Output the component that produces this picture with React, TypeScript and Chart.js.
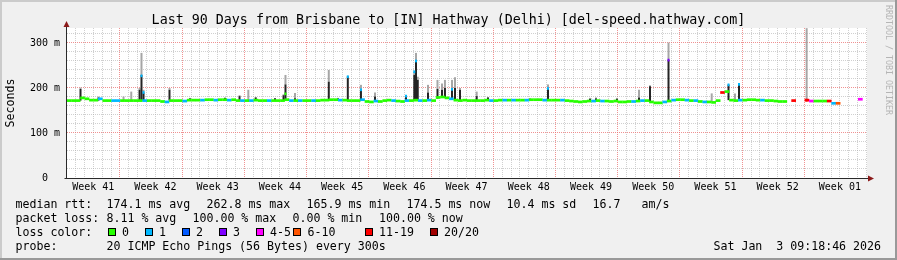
import React, { useEffect, useRef } from 'react';
import { Chart, registerables } from 'chart.js';

Chart.register(...registerables);

const FONT = '"DejaVu Sans Mono", monospace';

// ---- axis definitions ----
const RANGE_DAYS = 90;
const STEP_DAYS = 0.5;
const FIRST_DAY_LINE = 0.45;
const FIRST_WEEK_LINE = 6.45;
const Y_MAX = 333.33;
const weekLabels = ['Week 41', 'Week 42', 'Week 43', 'Week 44', 'Week 45', 'Week 46', 'Week 47', 'Week 48', 'Week 49', 'Week 50', 'Week 51', 'Week 52', 'Week 01'];
const yTickValues = [0, 100, 200, 300];
const yTickLabels = ['0  ', '100 m', '200 m', '300 m'];

// ---- median rtt (ms), one value per half day; null = 100% loss ----
const medianMs: (number | null)[] = [
  172, 172, 172, 178, 176, 173, 173, 176, 172, 172,
  172, 172, 172, 172, 172, 172, 172, 172, 172, 172,
  172, 170, 169, 172, 172, 172, 171, 173, 173, 173,
  173, 174, 174, 173, 174, 174, 173, 174, 172, 172,
  172, 172, 173, 172, 172, 172, 172, 172, 172, 174,
  172, 172, 172, 172, 172, 172, 172, 173, 173, 174,
  174, 173, 173, 172, 172, 172, 174, 170, 169, 171,
  170, 172, 173, 172, 171, 170, 172, 172, 173, 172,
  172, 173, 172, 179, 180, 178, 176, 173, 172, 173,
  172, 172, 172, 172, 173, 172, 172, 173, 173, 173,
  173, 173, 173, 173, 174, 174, 174, 173, 173, 173,
  173, 173, 172, 171, 170, 169, 170, 171, 171, 172,
  171, 171, 170, 171, 169, 169, 170, 170, 171, 172,
  172, 169, 167, 167, 169, 171, 173, 174, 174, 173,
  172, 172, 170, 169, 169, 168, 172, 190, 192, 173,
  172, 173, 173, 174, 174, 173, 173, 172, 172, 171,
  170, 170, null, 172, null, null, 173, 171, 171, 171,
  171, 171, 166, 166, null, null, null, null, 175, null,
];
// loss class per half day (index into lossLabels)
const medianLoss: number[] = [
  0, 0, 0, 0, 0, 0, 0, 1, 0, 0,
  1, 1, 0, 0, 0, 0, 0, 1, 0, 0,
  0, 0, 1, 0, 0, 0, 1, 0, 0, 0,
  1, 0, 0, 1, 0, 0, 1, 0, 0, 1,
  0, 1, 0, 0, 0, 1, 0, 0, 0, 0,
  1, 0, 1, 0, 0, 1, 0, 0, 0, 0,
  0, 1, 0, 0, 0, 0, 1, 0, 0, 1,
  0, 0, 0, 1, 0, 0, 1, 0, 0, 1,
  0, 1, 0, 0, 0, 0, 1, 0, 0, 0,
  0, 0, 0, 0, 0, 1, 0, 0, 1, 0,
  1, 0, 0, 1, 0, 0, 0, 1, 0, 0,
  0, 1, 0, 0, 0, 0, 0, 0, 1, 0,
  1, 0, 0, 0, 0, 0, 0, 1, 0, 1,
  0, 0, 0, 0, 1, 0, 1, 0, 0, 1,
  0, 1, 0, 1, 0, 0, 0, 6, 0, 0,
  0, 1, 0, 0, 0, 0, 1, 0, 0, 0,
  0, 0, 0, 6, 0, 0, 6, 4, 0, 0,
  0, 6, 1, 5, 0, 0, 0, 0, 4, 0,
];

const lossLabels = ['0', '1', '2', '3', '4-5', '6-10', '11-19', '20/20'];
const lossColors = ['#26ff00', '#00b8ff', '#0059ff', '#7e00ff', '#ff00ff', '#ff5500', '#ff0000', '#a10000'];

// ---- smoke spikes (day, low/top of dense smoke/max ping in ms) ----
const spikeDay = [1.52, 3.54, 6.36, 7.23, 8.16, 8.38, 8.61, 11.53, 13.84, 17.77, 19.41, 20.40, 21.23, 23.40, 24.36, 24.58, 25.65, 29.45, 30.49, 31.59, 33.07, 34.65, 38.14, 39.07, 39.26, 39.46, 40.61, 41.68, 42.19, 42.52, 43.31, 43.65, 44.21, 46.09, 47.36, 52.09, 54.11, 58.84, 59.51, 61.87, 64.35, 65.59, 67.67, 72.53, 74.42, 75.15, 75.60, 83.21];
const spikeLow = [172, 172, 172, 172, 172, 172, 172, 172, 172, 172, 172, 172, 172, 172, 172, 172, 172, 173, 172, 172, 172, 170, 171, 172, 172, 172, 172, 176, 178, 178, 176, 173, 172, 172, 172, 173, 173, 171, 171, 169, 171, 169, 171, 168, 173, 172, 173, 172];
const spikeTop = [198, 179, 172, 172, 196, 229, 190, 196, 177, 178, 182, 172, 179, 177, 184, 208, 177, 214, 177, 225, 196, 181, 182, 229, 260, 218, 190, 198, 196, 200, 197, 200, 196, 182, 179, 176, 200, 176, 177, 176, 179, 204, 262, 168, 207, 172, 208, 172];
const spikeMax = [201, 181, 181, 192, 200, 278, 196, 200, 178, 179, 184, 196, 180, 178, 186, 229, 189, 240, 178, 227, 207, 190, 184, 236, 278, 225, 207, 218, 210, 218, 218, 224, 200, 192, 180, 177, 208, 178, 179, 178, 196, 206, 301, 188, 209, 188, 210, 333];

// ---- median marks sitting on top of spikes ----
const markDay = [8.38, 8.61, 24.58, 31.59, 33.07, 38.14, 39.07, 39.26, 43.31, 54.11, 67.67, 74.42, 75.60, 83.21];
const markMs = [227, 190, 187, 225, 196, 182, 236, 260, 197, 199, 262, 207, 208, 173];
const markLoss = [1, 1, 0, 1, 1, 1, 1, 1, 1, 1, 3, 1, 1, 6];

// ---- texts ----
const titleText = 'Last 90 Days from Brisbane to [IN] Hathway (Delhi) [del-speed.hathway.com]';
const rttLabel = 'median rtt:';
const rttStats = ['174.1 ms avg', '262.8 ms max', '165.9 ms min', '174.5 ms now', '10.4 ms sd', '16.7', 'am/s'];
const lossLabel = 'packet loss:';
const lossStats = ['8.11 % avg', '100.00 % max', '0.00 % min', '100.00 % now'];
const colorLabel = 'loss color:';
const probeLabel = 'probe:';
const probeText = '20 ICMP Echo Pings (56 Bytes) every 300s';
const dateText = 'Sat Jan  3 09:18:46 2026';
const watermark = 'RRDTOOL / TOBI OETIKER';

// ---- styling ----
const LINE_HALF = 3;
const MINOR = 'rgba(170,170,170,0.55)';
const MAJOR = 'rgba(235,110,110,0.75)';

const decor = {
  id: 'decor',
  beforeDraw(chart: any) {
    const { ctx, width, height, chartArea: a } = chart;
    ctx.save();
    ctx.fillStyle = '#f0f0f0';
    ctx.fillRect(0, 0, width, height);
    ctx.fillStyle = '#cbcbcb';
    ctx.fillRect(0, 0, width, 2);
    ctx.fillRect(0, 0, 2, height);
    ctx.fillStyle = '#999999';
    ctx.fillRect(0, height - 2, width, 2);
    ctx.fillRect(width - 2, 0, 2, height);
    ctx.fillStyle = '#ffffff';
    ctx.fillRect(a.left, a.top, a.right - a.left, a.bottom - a.top);
    ctx.restore();
  },
  afterDraw(chart: any) {
    const { ctx, width, chartArea: a } = chart;
    ctx.save();
    // axes
    const ax = a.left - 0.5;
    const ay = a.bottom + 0.5;
    ctx.strokeStyle = '#2a2a2a';
    ctx.lineWidth = 1;
    ctx.beginPath();
    ctx.moveTo(ax, ay);
    ctx.lineTo(ax, a.top - 2);
    ctx.moveTo(ax - 2, ay);
    ctx.lineTo(a.right + 2, ay);
    ctx.stroke();
    ctx.fillStyle = '#8b1a1a';
    ctx.beginPath();
    ctx.moveTo(ax - 3, a.top - 1);
    ctx.lineTo(ax + 3, a.top - 1);
    ctx.lineTo(ax, a.top - 7);
    ctx.closePath();
    ctx.fill();
    ctx.beginPath();
    ctx.moveTo(a.right + 1, ay - 3);
    ctx.lineTo(a.right + 1, ay + 3);
    ctx.lineTo(a.right + 7, ay);
    ctx.closePath();
    ctx.fill();

    // title
    ctx.fillStyle = '#000';
    ctx.textBaseline = 'alphabetic';
    ctx.textAlign = 'center';
    ctx.font = `13.33px ${FONT}`;
    ctx.fillText(titleText, width / 2, 24);

    // legend
    ctx.textAlign = 'left';
    ctx.font = `11.6px ${FONT}`;
    const rows = [208, 222, 236, 250];
    ctx.fillText(rttLabel, 15.5, rows[0]);
    const rttX = [106.5, 206.5, 306.5, 406.5, 506.5, 592.5, 641.5];
    rttStats.forEach((t, i) => ctx.fillText(t, rttX[i], rows[0]));
    ctx.fillText(lossLabel, 15.5, rows[1]);
    const lossX = [106.5, 192.5, 292.5, 379];
    lossStats.forEach((t, i) => ctx.fillText(t, lossX[i], rows[1]));
    ctx.fillText(colorLabel, 15.5, rows[2]);
    const boxX = [108, 145, 182, 219, 256, 293, 365, 430];
    const lblX = [122, 159, 196, 233, 270, 307.5, 379, 444];
    lossLabels.forEach((t, i) => {
      ctx.fillStyle = lossColors[i];
      ctx.fillRect(boxX[i], 228, 8, 8);
      ctx.strokeStyle = '#000';
      ctx.strokeRect(boxX[i] + 0.5, 228.5, 7, 7);
      ctx.fillStyle = '#000';
      ctx.fillText(t, lblX[i], rows[2]);
    });
    ctx.fillText(probeLabel, 15.5, rows[3]);
    ctx.fillText(probeText, 106.5, rows[3]);
    ctx.textAlign = 'right';
    ctx.fillText(dateText, 881, rows[3]);

    // watermark
    ctx.translate(888, 5);
    ctx.rotate(Math.PI / 2);
    ctx.textAlign = 'left';
    ctx.textBaseline = 'middle';
    ctx.fillStyle = '#b5b5b5';
    ctx.font = `8.3px ${FONT}`;
    ctx.fillText(watermark, 0, 0);
    ctx.restore();
  },
};

export default function App() {
  const ref = useRef<HTMLCanvasElement>(null);

  useEffect(() => {
    const canvas = ref.current;
    if (!canvas) return;

    const medianPoints: any[] = [];
    const medianColors: string[] = [];
    medianMs.forEach((m, i) => {
      if (m === null) return;
      medianPoints.push({ x: i * STEP_DAYS + STEP_DAYS / 2, y: [m - LINE_HALF, m + LINE_HALF] });
      medianColors.push(lossColors[medianLoss[i]]);
    });

    const grayPoints = spikeDay.map((d, i) => ({ x: d, y: [spikeTop[i], spikeMax[i]] }));
    const darkPoints: any[] = [];
    spikeDay.forEach((d, i) => {
      if (spikeTop[i] > spikeLow[i]) darkPoints.push({ x: d, y: [spikeLow[i], spikeTop[i]] });
    });
    const markPoints = markDay.map((d, i) => ({ x: d, y: [markMs[i] - LINE_HALF, markMs[i] + LINE_HALF] }));
    const markColors = markLoss.map((l) => lossColors[l]);

    const dayLines: number[] = [];
    for (let v = FIRST_DAY_LINE; v < RANGE_DAYS; v += 1) dayLines.push(v);
    const weekCenters = weekLabels.map((_, k) => FIRST_WEEK_LINE - 3.5 + 7 * k);
    const yGrid: number[] = [];
    for (let v = 0; v < Y_MAX; v += 20) yGrid.push(v);

    const chart = new Chart(canvas, {
      type: 'bar',
      data: {
        datasets: [
          { label: 'smoke max', data: grayPoints as any, backgroundColor: '#a6a6a6', barThickness: 2, order: 3 },
          { label: 'smoke', data: darkPoints as any, backgroundColor: '#242424', barThickness: 2, order: 2 },
          { label: 'median', data: medianPoints as any, backgroundColor: medianColors, barThickness: 4.7, order: 1 },
          { label: 'marks', data: markPoints as any, backgroundColor: markColors, barThickness: 2, order: 0 },
        ],
      },
      plugins: [decor],
      options: {
        responsive: false,
        animation: false,
        devicePixelRatio: 1,
        events: [],
        layout: { padding: { left: 0, right: 30, top: 28, bottom: 62 } },
        plugins: { legend: { display: false }, title: { display: false }, tooltip: { enabled: false } },
        datasets: { bar: { grouped: false, borderWidth: 0, inflateAmount: 0 } as any },
        scales: {
          x: {
            type: 'linear',
            min: 0,
            max: RANGE_DAYS,
            offset: false,
            position: 'bottom',
            afterBuildTicks: (s: any) => { s.ticks = dayLines.map((v) => ({ value: v })); },
            afterFit: (s: any) => { s.height = 0; },
            ticks: { display: false, autoSkip: false },
            grid: {
              drawTicks: false,
              lineWidth: 1,
              color: (c: any) => (c.index >= 6 && (c.index - 6) % 7 === 0 ? MAJOR : MINOR),
            },
            border: { display: false, dash: [1, 1] },
          },
          x2: {
            type: 'linear',
            min: 0,
            max: RANGE_DAYS,
            offset: false,
            position: 'bottom',
            afterBuildTicks: (s: any) => { s.ticks = weekCenters.map((v) => ({ value: v })); },
            afterFit: (s: any) => { s.height = 20; },
            ticks: {
              autoSkip: false,
              maxRotation: 0,
              padding: 3,
              color: '#000',
              font: { family: FONT, size: 10 },
              callback: (_v: any, i: number) => weekLabels[i],
            },
            grid: { display: false, drawTicks: false },
            border: { display: false },
          },
          y: {
            type: 'linear',
            min: 0,
            max: Y_MAX,
            position: 'left',
            afterBuildTicks: (s: any) => { s.ticks = yGrid.map((v) => ({ value: v })); },
            afterFit: (s: any) => { s.width = 67; },
            ticks: {
              autoSkip: false,
              padding: 7,
              color: '#000',
              font: { family: FONT, size: 10 },
              callback: (v: any) => {
                const k = yTickValues.indexOf(Math.round(Number(v)));
                return k >= 0 ? yTickLabels[k] : '';
              },
            },
            grid: {
              drawTicks: false,
              lineWidth: 1,
              color: (c: any) => (c.tick && Math.round(c.tick.value) % 100 === 0 ? MAJOR : MINOR),
            },
            border: { display: false, dash: [1, 1] },
            title: {
              display: true,
              text: 'Seconds',
              color: '#000',
              font: { family: FONT, size: 11.6 },
              padding: { top: 4, bottom: 0 },
            },
          },
        } as any,
      },
    });
    return () => chart.destroy();
  }, []);

  return (
    <div style={{ position: 'absolute', left: 0, top: 0, width: 897, height: 260 }}>
      <canvas ref={ref} width={897} height={260} style={{ display: 'block', width: 897, height: 260 }} />
    </div>
  );
}
